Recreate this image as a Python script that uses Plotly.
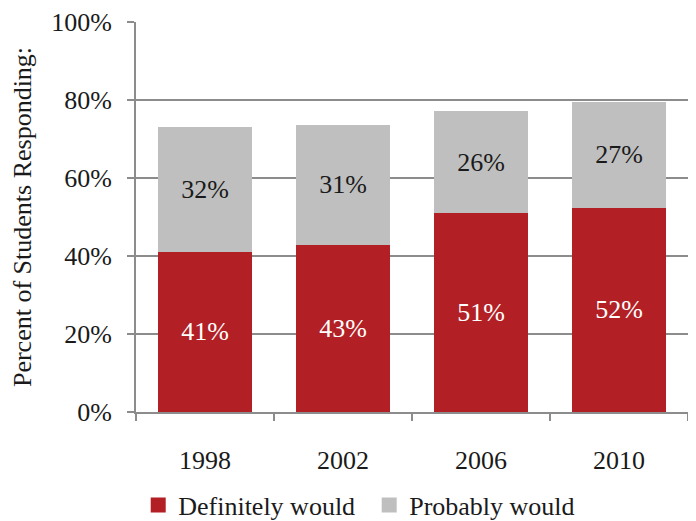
import plotly.graph_objects as go

years = ["1998", "2002", "2006", "2010"]
definitely = [41.1, 42.9, 50.9, 52.4]
probably = [31.9, 30.7, 26.4, 27.2]
y_ticks = [0, 20, 40, 60, 80, 100]
y_tick_labels = ["0%", "20%", "40%", "60%", "80%", "100%"]
grid_vals = [20, 40, 60, 80]

RED = "#B21F24"
GRAY = "#BFBFBF"
AXIS = "#8C8C8C"
FONT = "Liberation Serif"
FS = 26

fig = go.Figure()
fig.add_trace(go.Bar(
    x=years, y=definitely, name="Definitely would",
    marker=dict(color=RED, line=dict(width=0)),
    texttemplate="%{y:.0f}%", textposition="inside", insidetextanchor="middle",
    textfont=dict(color="white", size=FS, family=FONT),
    showlegend=False,
))
fig.add_trace(go.Bar(
    x=years, y=probably, name="Probably would",
    marker=dict(color=GRAY, line=dict(width=0)),
    texttemplate="%{y:.0f}%", textposition="inside", insidetextanchor="middle",
    textfont=dict(color="#1a1a1a", size=FS, family=FONT),
    showlegend=False,
))
# legend entries with larger square symbols
for name, col in [("Definitely would", RED), ("Probably would", GRAY)]:
    fig.add_trace(go.Scatter(
        x=[None], y=[None], mode="markers", name=name,
        marker=dict(symbol="square", size=15, color=col),
    ))

# page body adds an 8px offset, so the figure is 688x513
fig.update_layout(
    width=688, height=513,
    margin=dict(l=128, r=8, t=14, b=109, autoexpand=False),
    barmode="stack", bargap=0.32,
    plot_bgcolor="white", paper_bgcolor="white",
    font=dict(family=FONT, size=FS, color="#1a1a1a"),
    uniformtext=dict(minsize=FS, mode="show"),
    legend=dict(
        orientation="h", x=0.004, xanchor="left",
        yref="container", y=0.031, yanchor="middle",
        traceorder="normal",
        font=dict(size=FS, family=FONT, color="#1a1a1a"),
        entrywidth=186, entrywidthmode="pixels",
        itemwidth=30,
    ),
)
fig.update_xaxes(
    type="category", range=[-0.5, 3.5], automargin=False,
    showline=True, linecolor=AXIS, linewidth=2,
    ticks="outside", tickson="boundaries", ticklen=7, tickcolor=AXIS, tickwidth=2,
    ticklabelstandoff=24,
    showgrid=False, zeroline=False,
)
fig.update_yaxes(
    range=[0, 100], automargin=False,
    tickvals=y_ticks, ticktext=y_tick_labels,
    showline=True, linecolor=AXIS, linewidth=2,
    ticks="outside", ticklen=7, tickcolor=AXIS, tickwidth=2,
    ticklabelstandoff=10,
    showgrid=False, zeroline=False,
    minor=dict(tickvals=grid_vals, showgrid=True, gridcolor=AXIS, gridwidth=2, ticks=""),
    title=dict(text="Percent of Students Responding:", standoff=16,
               font=dict(size=FS, family=FONT, color="#1a1a1a")),
)

fig.write_html("out.html")
